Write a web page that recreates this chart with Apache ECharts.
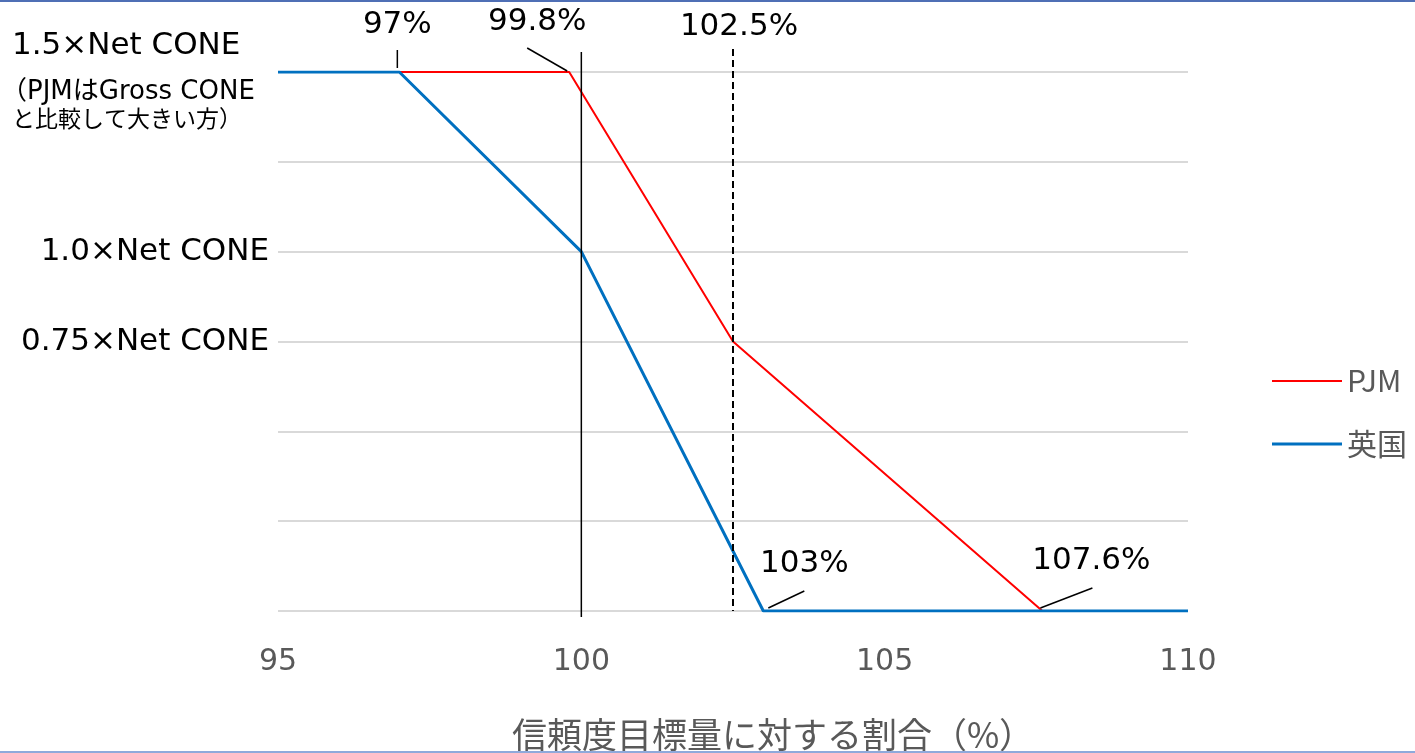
<!DOCTYPE html>
<html>
<head>
<meta charset="utf-8">
<script src="https://cdn.jsdelivr.net/npm/echarts@6/dist/echarts.min.js"></script>
<style>
  html, body { margin: 0; padding: 0; background: #ffffff; }
  #wrap { position: relative; width: 1415px; height: 753px; overflow: hidden; }
  #chart { position: absolute; left: 0; top: 0; width: 1415px; height: 753px; }
  .rule { position: absolute; left: 0; width: 1415px; height: 2px; }
</style>
</head>
<body>
<div id="wrap">
  <div id="chart"></div>
  <div class="rule" style="top:0;background:#4f6fb5;"></div>
  <div class="rule" style="top:751px;background:#8ea9db;"></div>
</div>
<script>
// Price curves: x = share of the reliability target (%), y = price in multiples of Net CONE
const pjmX = [95, 99.8, 102.5, 107.6, 110];
const pjmY = [1.5, 1.5, 0.75, 0, 0];
const ukX = [95, 97, 100, 103, 110];
const ukY = [1.5, 1.5, 1.0, 0, 0];

const seriesNames = ['PJM', '英国'];
const seriesColors = ['#ff0000', '#0070c0'];
const seriesWidths = [2, 3];
const xTicks = [95, 100, 105, 110];

// Price levels named on the vertical axis
const levelValues = [1.5, 1.0, 0.75];
const levelLabels = ['1.5×Net CONE', '1.0×Net CONE', '0.75×Net CONE'];
const levelNote = ['（PJMはGross CONE', 'と比較して大きい方）'];

// Kink points called out with their x value
const calloutX = [97, 99.8, 102.5, 103, 107.6];
const calloutY = [1.5, 1.5, 1.5, 0, 0];

// Vertical reference lines
const refLineX = [100, 102.5];

const xTitle = '信頼度目標量に対する割合（%）';

const LATIN = '"DejaVu Sans", "Noto Sans CJK JP", sans-serif';
const CJK = '"Noto Sans CJK JP", "DejaVu Sans", sans-serif';

const zip = (xs, ys) => xs.map((x, i) => [x, ys[i]]);

const chart = echarts.init(document.getElementById('chart'), null, { renderer: 'canvas' });

chart.setOption({
  animation: false,
  backgroundColor: '#ffffff',
  grid: { left: 278, right: 227, top: 72, bottom: 142, containLabel: false, outerBoundsMode: 'none' },
  legend: {
    orient: 'vertical',
    left: 1272,
    top: 365,
    padding: 0,
    itemWidth: 70,
    itemHeight: 14,
    itemGap: 31,
    data: seriesNames.map((n, i) => ({
      name: n,
      icon: 'path://M0 0H70V' + seriesWidths[i] + 'H0Z'
    })),
    textStyle: { color: '#595959', fontSize: 30, fontFamily: CJK, lineHeight: 32 }
  },
  xAxis: {
    type: 'value',
    min: xTicks[0],
    max: xTicks[xTicks.length - 1],
    interval: xTicks[1] - xTicks[0],
    axisLine: { show: false },
    axisTick: { show: false },
    splitLine: { show: false },
    axisLabel: { color: '#595959', fontSize: 30, fontFamily: LATIN, margin: 36 },
    name: xTitle,
    nameLocation: 'middle',
    nameGap: 106,
    nameTextStyle: { color: '#595959', fontSize: 35, fontFamily: CJK, padding: [0, 0, 0, 80] }
  },
  yAxis: {
    type: 'value',
    min: 0,
    max: 1.5,
    interval: 0.25,
    axisLine: { show: false },
    axisTick: { show: false },
    splitLine: { show: true, lineStyle: { color: '#d9d9d9', width: 2 } },
    axisLabel: {
      margin: 9,
      color: '#000000',
      fontSize: 31,
      fontFamily: LATIN,
      formatter: function (v) {
        const i = levelValues.findIndex(l => Math.abs(l - v) < 1e-9);
        // the top level is written above its gridline separately
        return i > 0 ? levelLabels[i] : '';
      }
    }
  },
  series: [
    {
      name: seriesNames[0],
      type: 'line',
      data: zip(pjmX, pjmY),
      symbol: 'none',
      lineStyle: { color: seriesColors[0], width: seriesWidths[0] },
      itemStyle: { color: seriesColors[0] },
      z: 3
    },
    {
      name: seriesNames[1],
      type: 'line',
      data: zip(ukX, ukY),
      symbol: 'none',
      lineStyle: { color: seriesColors[1], width: seriesWidths[1] },
      itemStyle: { color: seriesColors[1] },
      z: 4
    }
  ]
});

// Overlay: reference lines, callouts and the top level label, placed through the grid's scales
const px = (x, y) => chart.convertToPixel({ gridIndex: 0 }, [x, y]);
const yMax = 1.5, yMin = 0;

const graphics = [];

// solid line at 100%, dashed line at 102.5%
const refStyles = [
  { top: -20, bottom: 6, dash: null, width: 1.5 },
  { top: -23, bottom: 0, dash: [7, 4], width: 2 }
];
refLineX.forEach((x, i) => {
  const a = px(x, yMax), b = px(x, yMin);
  const s = refStyles[i];
  graphics.push({
    type: 'line', z: 10, silent: true,
    shape: { x1: a[0], y1: a[1] + s.top, x2: b[0], y2: b[1] + s.bottom },
    style: { stroke: '#000000', lineWidth: s.width, lineDash: s.dash }
  });
});

// callout text and leader offsets (pixels from the kink point)
const calloutLayout = [
  { text: [-2, -47], leader: [[-2, -22], [-2, -4]] },
  { text: [-32, -50], leader: [[-42, -24], [-2, -1]] },
  { text: [6, -45], leader: null },
  { text: [41, -47], leader: [[5, -3], [41, -20]] },
  { text: [49, -50], leader: [[-2, -3], [50, -23]] }
];
calloutX.forEach((x, i) => {
  const p = px(x, calloutY[i]);
  const L = calloutLayout[i];
  if (L.leader) {
    graphics.push({
      type: 'line', z: 10, silent: true,
      shape: { x1: p[0] + L.leader[0][0], y1: p[1] + L.leader[0][1], x2: p[0] + L.leader[1][0], y2: p[1] + L.leader[1][1] },
      style: { stroke: '#000000', lineWidth: 1.5 }
    });
  }
  graphics.push({
    type: 'text', z: 10, silent: true,
    style: {
      text: x + '%', x: p[0] + L.text[0], y: p[1] + L.text[1],
      fill: '#000000', fontSize: 31, fontFamily: LATIN, align: 'center', verticalAlign: 'middle'
    }
  });
});

// top price level with its note
const topY = px(xTicks[0], levelValues[0])[1];
graphics.push({
  type: 'text', z: 10, silent: true,
  style: { text: levelLabels[0], x: 12, y: topY - 26, fill: '#000000', fontSize: 31, fontFamily: LATIN, align: 'left', verticalAlign: 'middle' }
});
graphics.push({
  type: 'text', z: 10, silent: true,
  style: { text: levelNote[0], x: 1, y: topY + 20, fill: '#000000', fontSize: 26, fontFamily: LATIN, align: 'left', verticalAlign: 'middle' }
});
graphics.push({
  type: 'text', z: 10, silent: true,
  style: { text: levelNote[1], x: 12, y: topY + 46, fill: '#000000', fontSize: 23, fontFamily: CJK, align: 'left', verticalAlign: 'middle' }
});

chart.setOption({ graphic: graphics });
</script>
</body>
</html>
